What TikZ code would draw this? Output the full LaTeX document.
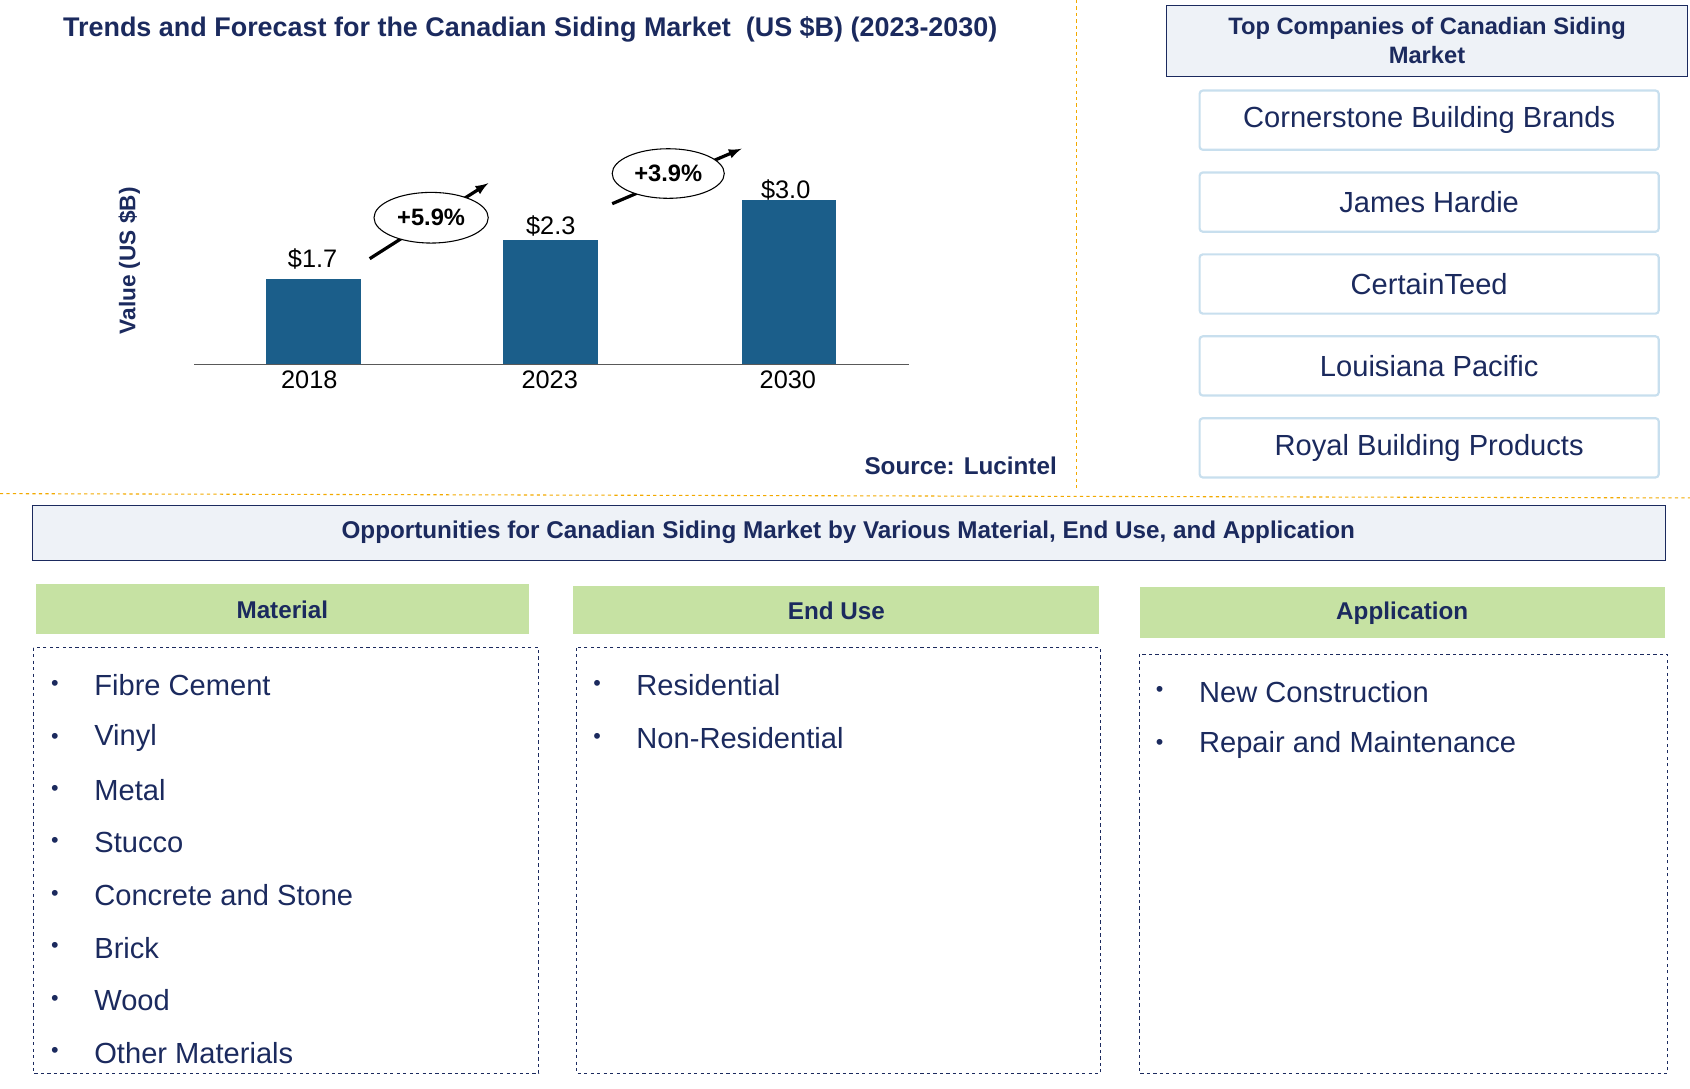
\documentclass[tikz,border=0pt]{standalone}
\usepackage{fontspec}
\setmainfont{Liberation Sans}
\usetikzlibrary{shapes.geometric}
\begin{document}
\begin{tikzpicture}[x=1pt,y=-1pt,
  navy/.style={text=nv},
  hdr/.style={draw=nv,fill=hb,line width=1pt},
  comp/.style={draw=cb,line width=2pt,rounded corners=3pt,fill=white},
  dbox/.style={draw=nv,dashed,line width=0.9pt},
  item/.style={anchor=west,text=nv,font=\fontsize{27}{30}\selectfont},
  bul/.style={text=nv,font=\fontsize{20}{22}\selectfont},
  hfont/.style={navy,font=\bfseries\fontsize{22.5}{26}\selectfont}]
\definecolor{nv}{HTML}{1B2A5E}
\definecolor{hb}{HTML}{EEF2F7}
\definecolor{cb}{HTML}{C8DFEE}
\definecolor{gr}{HTML}{C6E2A3}
\definecolor{bc}{HTML}{1B5E8A}
\definecolor{org}{HTML}{F2A900}
\useasboundingbox (0,0) rectangle (1568,1010);
\node[navy,font=\bfseries\fontsize{25}{28}\selectfont] (title) at (492,27) {Trends and Forecast for the Canadian Siding Market \ (US \$B) (2023-2030)};
\draw[org,dashed,line width=1pt] (999,0) -- (999,455);
\draw[org,dashed,line width=1pt] (0,458) -- (1568,462);
\node[navy,rotate=90,font=\bfseries\fontsize{21}{24}\selectfont] (yl) at (120,242) {Value (US \$B)};
\draw[line width=1pt,gray!70!black] (180,338) -- (843,338);
\fill[bc] (247,259) rectangle (335,338);
\fill[bc] (467,223) rectangle (555,338);
\fill[bc] (688,186) rectangle (776,338);
\begin{scope}[font=\fontsize{23.5}{26}\selectfont]
\node (v1) at (290,240) {\$1.7};
\node (v2) at (511,210) {\$2.3};
\node (v3) at (729,176) {\$3.0};
\node (y1) at (287,352) {2018};
\node (y2) at (510,352) {2023};
\node (y3) at (731,352) {2030};
\end{scope}
\coordinate (a1) at (343,240); \coordinate (b1) at (453,170);
\coordinate (a2) at (568,189); \coordinate (b2) at (688,138);
\draw[-latex,line width=3pt] (a1) -- (b1);
\draw[-latex,line width=3pt] (a2) -- (b2);
\node[draw,ellipse,fill=white,minimum width=106,minimum height=47,line width=1pt,font=\bfseries\fontsize{22}{24}\selectfont,inner sep=0] (g1) at (400,202) {+5.9\%};
\node[draw,ellipse,fill=white,minimum width=104,minimum height=46,line width=1pt,font=\bfseries\fontsize{22}{24}\selectfont,inner sep=0] (g2) at (620,161) {+3.9\%};
\node[hfont,anchor=east] (src) at (984,432) {Source: Lucintel};
\draw[hdr] (1082,5) rectangle (1566,71);
\node[hfont,align=center,font=\bfseries\fontsize{22}{27}\selectfont] (th) at (1324,38) {Top Companies of Canadian Siding\\Market};
\foreach \t/\y in {Cornerstone Building Brands/84,James Hardie/160,CertainTeed/236,Louisiana Pacific/312,Royal Building Products/388}{
  \draw[comp] (1113,\y) rectangle (1539,\y+55);
  \node[navy,font=\fontsize{27}{30}\selectfont] at (1326,\y+27.5) {\t};
}
\draw[hdr] (30,469) rectangle (1545,520);
\node[hfont] (op) at (787,494) {Opportunities for Canadian Siding Market by Various Material, End Use, and Application};
\fill[gr] (33,542) rectangle (491,588);
\fill[gr] (532,544) rectangle (1020,588);
\fill[gr] (1058,545) rectangle (1545,592);
\node[hfont] (h1) at (262,566) {Material};
\node[hfont] (h2) at (776,567) {End Use};
\node[hfont] (h3) at (1301,569) {Application};
\draw[dbox] (31,601) rectangle (500,996);
\draw[dbox] (535,601) rectangle (1021,996);
\draw[dbox] (1057,607) rectangle (1547,996);
\foreach \t [count=\i from 0] in {Fibre Cement,Vinyl,Metal,Stucco,Concrete and Stone,Brick,Wood,Other Materials}{
  \node[bul] at (51,636+48.7*\i) {•};
  \node[item] at (84,636+48.7*\i) {\t};
}
\foreach \t [count=\i from 0] in {Residential,Non-Residential}{
  \node[bul] at (554,636+48.7*\i) {•};
  \node[item] at (587,636+48.7*\i) {\t};
}
\foreach \t [count=\i from 0] in {New Construction,Repair and Maintenance}{
  \node[bul] at (1076,642+49*\i) {•};
  \node[item] at (1109,642+49*\i) {\t};
}
\end{tikzpicture}
\end{document}
